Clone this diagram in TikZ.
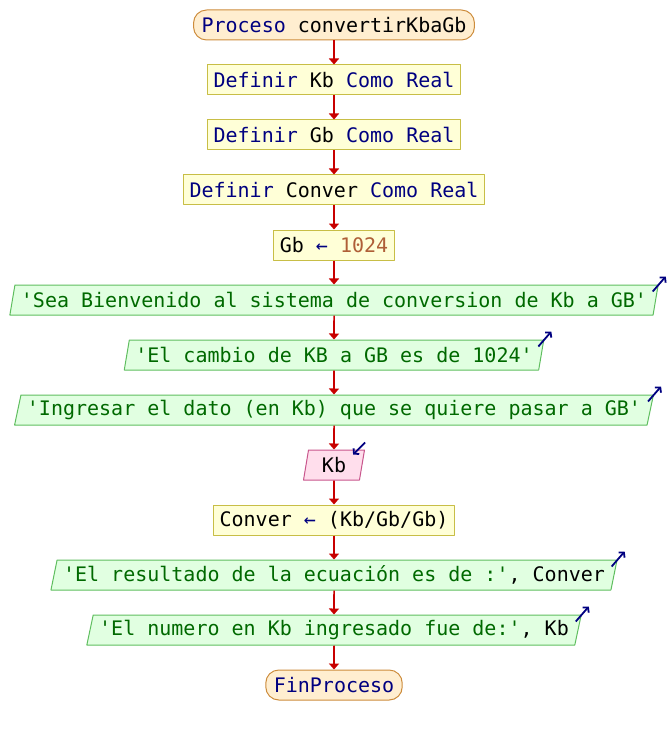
\documentclass[tikz,border=0pt]{standalone}
\usepackage{fontspec}
\usepackage{tikz}
\usetikzlibrary{arrows.meta}
\usetikzlibrary{positioning}
\usetikzlibrary{shapes.geometric}
\newfontfamily\psfont{DejaVu Sans Mono}
\definecolor{keyblue}{RGB}{0,0,128}
\definecolor{strgreen}{RGB}{0,105,0}
\definecolor{numbrown}{RGB}{175,95,55}
\definecolor{procfill}{RGB}{255,238,208}
\definecolor{procline}{RGB}{205,140,60}
\definecolor{asgfill}{RGB}{255,255,215}
\definecolor{asgline}{RGB}{200,190,70}
\definecolor{outfill}{RGB}{225,255,225}
\definecolor{outline}{RGB}{95,190,95}
\definecolor{infill}{RGB}{255,222,236}
\definecolor{inline}{RGB}{200,85,140}
\definecolor{flowred}{RGB}{200,0,0}
\newcommand{\kwd}[1]{\textcolor{keyblue}{#1}}
\newcommand{\strg}[1]{\textcolor{strgreen}{#1}}
\newcommand{\nmb}[1]{\textcolor{numbrown}{#1}}

\begin{document}
\begin{tikzpicture}[x=1pt,y=1pt,line join=round,on grid,node distance=55pt,
  every node/.style={font=\psfont\fontsize{20pt}{24pt}\selectfont,inner ysep=0pt,minimum height=30pt,text=black},
  startstop/.style={rectangle,rounded corners=13pt,draw=procline,fill=procfill,line width=1pt,inner xsep=8pt},
  assign/.style={rectangle,draw=asgline,fill=asgfill,line width=1pt,inner xsep=6pt},
  outbox/.style={trapezium,trapezium left angle=72,trapezium right angle=108,trapezium stretches body,draw=outline,fill=outfill,line width=1pt,inner xsep=6pt},
  inbox/.style={outbox,draw=inline,fill=infill,minimum width=61pt},
  flow/.style={draw=flowred,line width=1.6pt,-{Triangle[length=6pt,width=10pt]}},
  icon/.style={draw=keyblue,line width=1.8pt,-{Straight Barb[length=3.5pt,width=8pt]}}]
\useasboundingbox (0,0) rectangle (668,-735);
\node[startstop] (start) at (334,-25) {\kwd{Proceso} convertirKbaGb};
\node[assign,below=of start] (defkb) {\kwd{Definir} Kb \kwd{Como} \kwd{Real}};
\node[assign,below=of defkb] (defgb) {\kwd{Definir} Gb \kwd{Como} \kwd{Real}};
\node[assign,below=of defgb] (defconv) {\kwd{Definir} Conver \kwd{Como} \kwd{Real}};
\node[assign,below=of defconv] (setgb) {Gb \kwd{←} \nmb{1024}};
\node[outbox,below=of setgb] (welcome) {\strg{'Sea Bienvenido al sistema de conversion de Kb a GB'}};
\node[outbox,below=of welcome] (rate) {\strg{'El cambio de KB a GB es de 1024'}};
\node[outbox,below=of rate] (ask) {\strg{'Ingresar el dato (en Kb) que se quiere pasar a GB'}};
\node[inbox,below=of ask] (readkb) {Kb};
\node[assign,below=of readkb] (calc) {Conver \kwd{←} (Kb/Gb/Gb)};
\node[outbox,below=of calc] (result) {\strg{'El resultado de la ecuación es de :'}, Conver};
\node[outbox,below=of result] (echo) {\strg{'El numero en Kb ingresado fue de:'}, Kb};
\node[startstop,below=of echo] (stop) {\kwd{FinProceso}};
\foreach \a/\b in {start/defkb,defkb/defgb,defgb/defconv,defconv/setgb,setgb/welcome,welcome/rate,rate/ask,ask/readkb,readkb/calc,calc/result,result/echo,echo/stop}
\draw[flow] (\a) -- (\b);
\foreach \n in {welcome,rate,ask,result,echo}
\draw[icon] ([shift={(-6pt,-7pt)}]\n.top right corner) -- ++(13pt,15pt);
\draw[icon] ([shift={(0pt,7pt)}]readkb.top right corner) -- ++(-12pt,-12pt);
\end{tikzpicture}
\end{document}
